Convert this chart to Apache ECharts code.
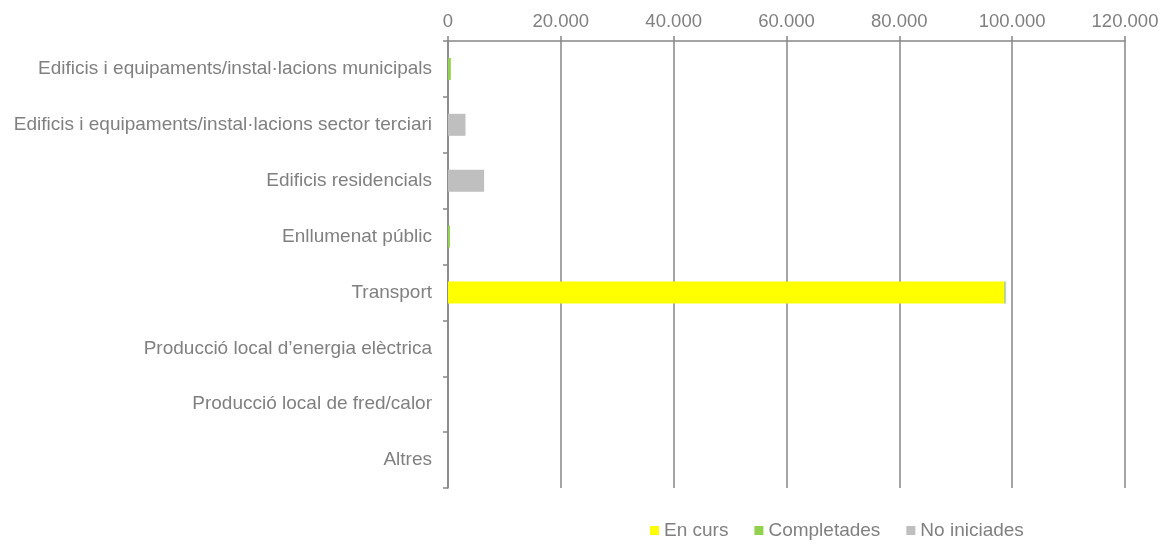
<!DOCTYPE html>
<html>
<head>
<meta charset="utf-8">
<script src="https://cdn.jsdelivr.net/npm/echarts@6/dist/echarts.min.js"></script>
<style>
html, body { margin: 0; padding: 0; background: #fff; }
#chartdiv { width: 1168px; height: 545px; }
</style>
</head>
<body>
<div id="chartdiv"></div>
<script>
var categories = [
    'Edificis i equipaments/instal·lacions municipals',
    'Edificis i equipaments/instal·lacions sector terciari',
    'Edificis residencials',
    'Enllumenat públic',
    'Transport',
    'Producció local d\u2019energia elèctrica',
    'Producció local de fred/calor',
    'Altres'
];
var enCurs = [0, 0, 0, 0, 98600, 0, 0, 0];
var completades = [500, 0, 0, 350, 200, 0, 0, 0];
var noIniciades = [0, 3100, 6400, 0, 130, 0, 0, 0];

// gris de text i eixos
var textColor = '#808080';
var lineColor = '#868686';

var chart = echarts.init(document.getElementById('chartdiv'));

function fmt(v) {
    return String(v).replace(/\B(?=(\d{3})+(?!\d))/g, '.');
}

chart.setOption({
    animation: false,
    textStyle: { fontFamily: 'Liberation Sans, Arial, sans-serif' },
    grid: { left: 448, right: 43, top: 41, bottom: 57 },
    legend: {
        left: 645, top: 516,
        itemWidth: 9, itemHeight: 9, itemGap: 26,
        icon: 'rect',
        textStyle: { color: textColor, fontSize: 19 },
        data: ['En curs', 'Completades', 'No iniciades']
    },
    xAxis: {
        type: 'value',
        position: 'top',
        min: 0, max: 120000, interval: 20000,
        axisLine: { show: true, lineStyle: { color: lineColor, width: 1.5 } },
        axisTick: { show: true, length: 5, lineStyle: { color: lineColor, width: 1.5 } },
        splitLine: { show: true, lineStyle: { color: lineColor, width: 1.5 } },
        axisLabel: { color: textColor, fontSize: 18.5, margin: 10, formatter: fmt }
    },
    yAxis: {
        type: 'category',
        inverse: true,
        data: categories,
        axisLine: { show: true, lineStyle: { color: lineColor, width: 1.5 } },
        axisTick: { show: true, length: 5, lineStyle: { color: lineColor, width: 1.5 } },
        axisLabel: { color: textColor, fontSize: 19, margin: 16 }
    },
    series: [
        { name: 'En curs', type: 'bar', stack: 'total', barWidth: 22, data: enCurs, itemStyle: { color: '#ffff00' } },
        { name: 'Completades', type: 'bar', stack: 'total', barWidth: 22, data: completades, itemStyle: { color: '#92d050' } },
        { name: 'No iniciades', type: 'bar', stack: 'total', barWidth: 22, data: noIniciades, itemStyle: { color: '#bfbfbf' } }
    ]
});
</script>
</body>
</html>
